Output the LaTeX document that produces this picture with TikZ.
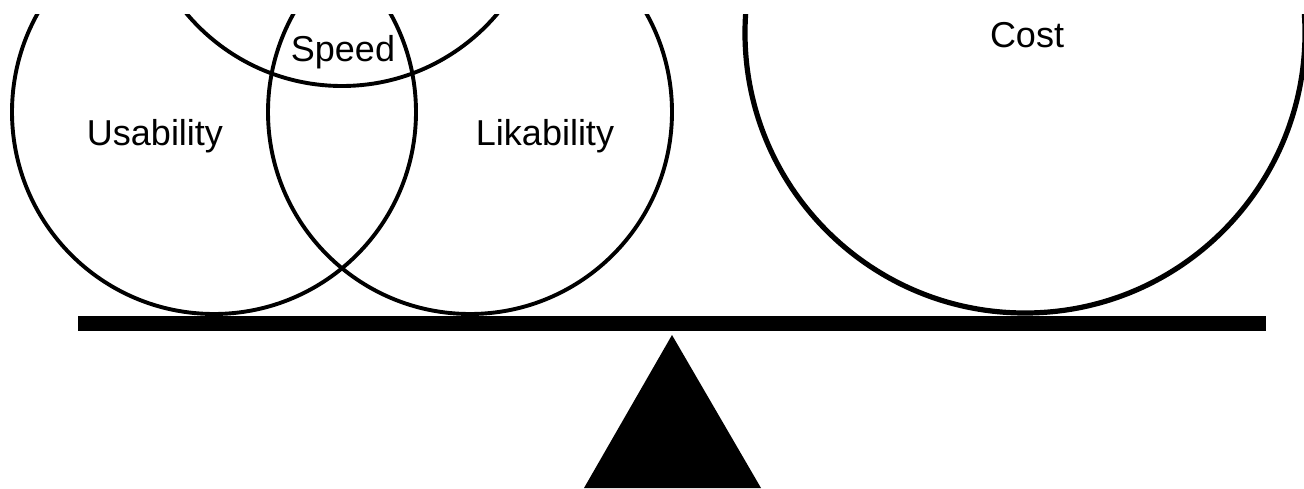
\documentclass[tikz,border=0pt]{standalone}
\usepackage{fontspec}
\setmainfont{Liberation Sans}
\begin{document}
\begin{tikzpicture}[x=1pt,y=-1pt,
  ring/.style={circle, draw, inner sep=0pt, line width=3.9pt},
  bigring/.style={ring, line width=5.2pt},
  tag/.style={font=\fontsize{36}{40}\selectfont, anchor=base, inner sep=0pt},
  solid/.style={fill=black, draw=none, inner sep=0pt}]
\useasboundingbox (0,0) rectangle (1304,488);
\begin{scope}
  \clip (0,14) rectangle (1304,488);
  \node[ring, minimum size=404pt] (usab) at (214,112) {};
  \node[ring, minimum size=404pt] (lik) at (470,112) {};
  \node[ring, minimum size=406pt] (spd) at (342,-117) {};
  \node[bigring, minimum size=560pt] (cost) at (1025,33) {};
\end{scope}
\node[tag] (tu) at (155,145) {Usability};
\node[tag] (tl) at (545,145) {Likability};
\node[tag] (ts) at (343,61) {Speed};
\node[tag] (tc) at (1027,47) {Cost};
\node[solid, minimum width=1188pt, minimum height=15pt] (beam) at (672,323.5) {};
\coordinate (apex) at (672,335);
\coordinate (bl) at (584,488);
\coordinate (br) at (761,488);
\fill (apex) -- (bl) -- (br) -- cycle;
\end{tikzpicture}
\end{document}
